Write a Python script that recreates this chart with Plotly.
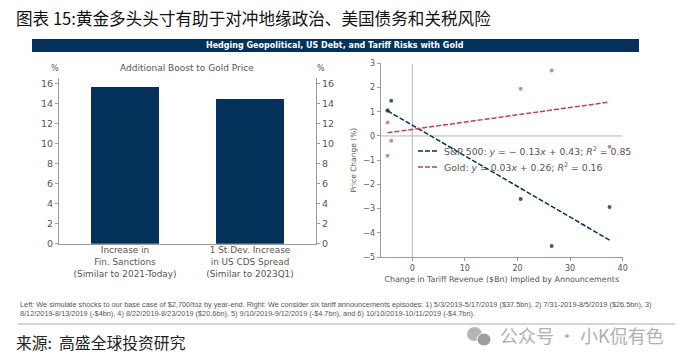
import plotly.graph_objects as go

W, H = 691, 363
# --- data ---
bar_pos = [0, 1]
bar_labels = ["Increase in<br>Fin. Sanctions<br>(Similar to 2021-Today)",
              "1 St.Dev. Increase<br>in US CDS Spread<br>(Similar to 2023Q1)"]
bar_values = [15.75, 14.5]
left_ticks = [0, 2, 4, 6, 8, 10, 12, 14, 16]

tariff_x = [37.5, 26.5, 20.6, -4.0, -4.7, -4.7]
spx_y = [-2.93, -4.55, -2.6, 1.45, 1.05, 1.05]
gold_y = [-0.45, 2.7, 1.95, -0.2, 0.55, -0.82]
fit_x = [-4.7, 37.5]
spx_fit = [1.04, -4.3]
gold_fit = [0.13, 1.4]
right_xticks = [0, 10, 20, 30, 40]
right_yticks = [3, 2, 1, 0, -1, -2, -3, -4, -5]
right_yticktext = ["3", "2", "1", "0", "\u22121", "\u22122", "\u22123", "\u22124", "\u22125"]

TITLE = "图表 15:黄金多头头寸有助于对冲地缘政治、美国债务和关税风险"
BANNER = "Hedging Geopolitical, US Debt, and Tariff Risks with Gold"
SPX_LABEL = "S&amp;P 500: <i>y</i> = − 0.13<i>x</i> + 0.43; <i>R</i><sup>2</sup> = 0.85"
GOLD_LABEL = "Gold: <i>y</i> = 0.03<i>x</i> + 0.26; <i>R</i><sup>2</sup> = 0.16"
NOTE1 = ("Left: We simulate shocks to our base case of $2,700/toz by year-end. Right: We consider six tariff "
         "announcements episodes: 1) 5/3/2019-5/17/2019 ($37.5bn), 2) 7/31-2019-8/5/2019 ($26.5bn), 3)")
NOTE2 = ("8/12/2019-8/13/2019 (-$4bn), 4) 8/22/2019-8/23/2019 ($20.6bn), 5) 9/10/2019-9/12/2019 (-$4.7bn), "
         "and 6) 10/10/2019-10/11/2019 (-$4.7bn).")
SOURCE = "来源:  高盛全球投资研究"
MARK = "公众号 · 小K侃有色"

NAVY = "#03315a"
DARKGREEN = "#3f5f63"
PINK = "#c98f97"
RED = "#c0434a"
GRAY = "#555555"
AXIS = "#9a9a9a"
CJK = "Noto Sans CJK SC"
DJ = "DejaVu Sans"
NOTEF = "Liberation Sans"


def px(x):
    return x / W


def py(y):
    return 1 - y / H


fig = go.Figure()
fig.add_trace(go.Bar(x=bar_pos, y=bar_values, width=0.544, marker=dict(color=NAVY, line=dict(width=0)),
                     xaxis="x", yaxis="y", showlegend=False))
fig.add_trace(go.Scatter(x=bar_pos, y=bar_values, mode="markers", marker=dict(opacity=0, size=1),
                         xaxis="x", yaxis="y2", showlegend=False, hoverinfo="skip"))
fig.add_trace(go.Scatter(x=tariff_x, y=spx_y, mode="markers", marker=dict(color=DARKGREEN, size=4),
                         xaxis="x3", yaxis="y3", showlegend=False))
fig.add_trace(go.Scatter(x=tariff_x, y=gold_y, mode="markers", marker=dict(color=PINK, size=4),
                         xaxis="x3", yaxis="y3", showlegend=False))
fig.add_trace(go.Scatter(x=fit_x, y=spx_fit, mode="lines", line=dict(color=NAVY, width=1.5, dash="5px,2px"),
                         xaxis="x3", yaxis="y3", showlegend=False))
fig.add_trace(go.Scatter(x=fit_x, y=gold_fit, mode="lines", line=dict(color=RED, width=1.5, dash="5px,2px"),
                         xaxis="x3", yaxis="y3", showlegend=False))

tickfont = dict(family=DJ, size=9.5, color=GRAY)
left_common = dict(range=[0, 16.6], tickvals=left_ticks, tickfont=tickfont, showgrid=False, zeroline=False,
                   showline=True, linecolor=AXIS, linewidth=1, ticks="outside", ticklen=3, tickcolor=AXIS)

layout = dict(
    width=W, height=H, margin=dict(l=0, r=0, t=0, b=0, autoexpand=False), paper_bgcolor="white",
    plot_bgcolor="white", font=dict(family=DJ, color=GRAY), bargap=0, showlegend=False,
    xaxis=dict(domain=[px(59), px(316)], range=[-0.528, 1.528], tickvals=bar_pos, ticktext=bar_labels,
               tickfont=dict(family=DJ, size=8.9, color=GRAY), showgrid=False, zeroline=False, showline=True,
               linecolor=AXIS, ticks="", anchor="y", ticklabelstandoff=-2),
    yaxis=dict(domain=[py(243.7), py(77.7)], anchor="x", **left_common),
    yaxis2=dict(domain=[py(243.7), py(77.7)], anchor="x", overlaying="y", side="right", **left_common),
    xaxis3=dict(domain=[px(380.7), px(622.7)], range=[-6, 40], tickvals=right_xticks,
                tickfont=dict(family=DJ, size=8, color=GRAY),
                showgrid=False, zeroline=False, showline=True, linecolor=AXIS, ticks="outside", ticklen=3,
                tickcolor=AXIS, anchor="y3",
                title=dict(text="Change in Tariff Revenue ($Bn) Implied by Announcements",
                           font=dict(family=DJ, size=7.95, color=GRAY), standoff=4)),
    yaxis3=dict(domain=[py(257), py(63.3)], range=[-5, 3], tickvals=right_yticks, ticktext=right_yticktext,
                tickfont=dict(family=DJ, size=8, color=GRAY), showgrid=False, zeroline=False, showline=True,
                linecolor=AXIS, ticks="outside", ticklen=3, tickcolor=AXIS, anchor="x3",
                title=dict(text="Price Change (%)", font=dict(family=DJ, size=7.5, color=GRAY), standoff=5)),
)


def txt(x, y, s, size, color, family=DJ, anchor="left", **kw):
    return dict(x=px(x), y=py(y), xref="paper", yref="paper", text=s, showarrow=False, xanchor=anchor,
                yanchor="middle", font=dict(family=family, size=size, color=color), **kw)


layout["annotations"] = [
    txt(14, 18, TITLE, 16.6, "#111111", CJK),
    txt(335, 45.5, "<b>" + BANNER + "</b>", 8, "white", DJ, "center"),
    txt(187, 68, "Additional Boost to Gold Price", 9, GRAY, DJ, "center"),
    txt(55, 68, "%", 8, GRAY, DJ, "center"),
    txt(321, 68, "%", 8, GRAY, DJ, "center"),
    txt(442, 151, SPX_LABEL, 9.3, GRAY),
    txt(442, 167, GOLD_LABEL, 9.3, GRAY),
    txt(18, 304, NOTE1, 7.33, "#555555", NOTEF),
    txt(18, 313, NOTE2, 7.33, "#555555", NOTEF),
    txt(14, 342, SOURCE, 15.8, "#222222", CJK),
    txt(498, 335, MARK, 18, "#b0b0b0", CJK),
]
layout["shapes"] = [
    dict(type="rect", xref="paper", yref="paper", x0=px(32), x1=px(639), y0=py(52), y1=py(39),
         fillcolor=NAVY, line=dict(width=0), layer="below"),
    dict(type="line", xref="paper", yref="paper", x0=px(18), x1=px(675), y0=py(324), y1=py(324),
         line=dict(color="#aaaaaa", width=1)),
    dict(type="line", xref="x3", yref="y3", x0=0, x1=0, y0=-5, y1=3, line=dict(color="#b5b5b5", width=1), layer="below"),
    dict(type="line", xref="x3", yref="y3", x0=-6, x1=40, y0=0, y1=0, line=dict(color="#b5b5b5", width=1), layer="below"),
    dict(type="line", xref="paper", yref="paper", x0=px(418), x1=px(437), y0=py(151), y1=py(151),
         line=dict(color=NAVY, width=1.5, dash="5px,2px")),
    dict(type="line", xref="paper", yref="paper", x0=px(418), x1=px(437), y0=py(167), y1=py(167),
         line=dict(color=RED, width=1.5, dash="5px,2px")),
    dict(type="circle", xref="paper", yref="paper", x0=px(467), x1=px(482), y0=py(341), y1=py(327),
         fillcolor="#b5b5b5", line=dict(width=0)),
    dict(type="circle", xref="paper", yref="paper", x0=px(477), x1=px(491), y0=py(346), y1=py(333),
         fillcolor="#9e9e9e", line=dict(color="white", width=1)),
]
fig.update_layout(**layout)
fig.write_html("out.html", config=dict(displayModeBar=False), post_script="document.body.style.margin='0';")
